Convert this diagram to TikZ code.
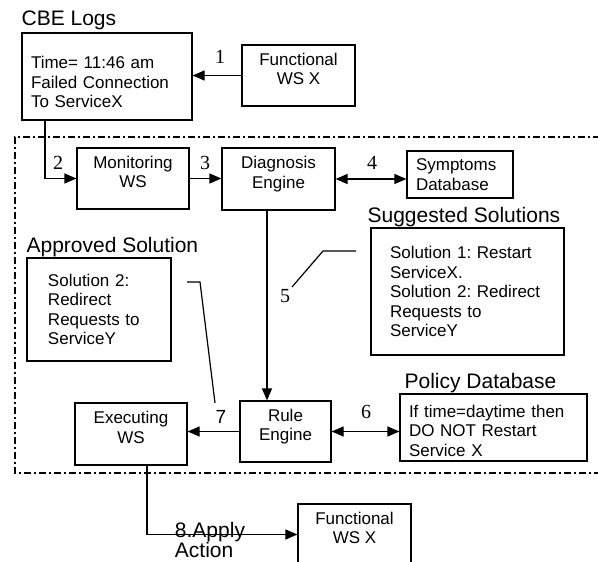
\documentclass[tikz,border=0pt]{standalone}
\usepackage{fontspec}
\setmainfont{Liberation Sans}
\newfontfamily\numfont{Liberation Serif}
\usetikzlibrary{arrows.meta}
\frenchspacing
\hyphenpenalty=10000
\tikzset{
    box/.style={
           rectangle,
           draw=black, line width=1.2pt,
           inner sep=0pt,
           align=center,
           font=\fontsize{17}{19.5}\selectfont,
           },
    mid/.style={box,text depth=13pt},
}
\tikzset{
    ttl/.style={
           anchor=base west,
           inner sep=0pt,
           font=\fontsize{21}{23}\selectfont,
           },
    num/.style={
           inner sep=0pt,
           font=\numfont\fontsize{20}{22}\selectfont,
           },
    arr/.style={line width=1.2pt,-{Triangle[length=12pt,width=10pt]}},
    darr/.style={line width=1.2pt,{Triangle[length=12pt,width=10pt]}-{Triangle[length=12pt,width=10pt]}},
    lead/.style={line width=1.2pt},
}

\begin{document}
\begin{tikzpicture}[x=1pt,y=-1pt]
\useasboundingbox (0,0) rectangle (598,562);
\node[box,align=left,text width=152pt,minimum width=170pt,minimum height=87pt](cbe) at (107,76.5){\rule{0pt}{24pt}Time= 11:46 am\\Failed Connection\\To ServiceX};
\node[ttl] at ([yshift=7pt]cbe.north west){CBE Logs};
\node[mid,minimum width=113pt,minimum height=61pt](fwsa) at (298.5,75.5){Functional\\WS X};
\node[mid,minimum width=112pt,minimum height=61pt](mon) at (133,178.5){Monitoring\\WS};
\node[mid,minimum width=113pt,minimum height=62pt](diag) at (278.5,179){Diagnosis\\Engine};
\node[box,align=left,text width=88pt,minimum width=106pt,minimum height=47pt](symp) at (460,174.5){Symptoms\\Database};
\node[box,align=left,text width=155pt,inner xsep=19pt,minimum height=127pt](sugg) at (467.5,291.5){Solution 1: Restart\\ServiceX.\\Solution 2: Redirect\\Requests to\\ServiceY};
\node[ttl] at ([xshift=-3pt,yshift=5pt]sugg.north west){Suggested Solutions};
\node[box,align=left,text width=102pt,inner xsep=21pt,minimum height=103pt](appr) at (99,309.5){Solution 2:\\Redirect\\Requests to\\ServiceY};
\node[ttl] at ([yshift=5pt]appr.north west){Approved Solution};
\node[mid,minimum width=112pt,minimum height=62pt](exe) at (131,434){Executing\\WS};
\node[mid,minimum width=91pt,minimum height=61pt](rule) at (285.5,431.5){Rule\\Engine};
\node[box,align=left,text width=169pt,inner xsep=9pt,minimum height=67pt](pol) at (493.5,427.5){\rule{0pt}{19pt}If time=daytime then\\DO NOT Restart\\Service X};
\node[ttl] at ([xshift=5pt,yshift=5pt]pol.north west){Policy Database};
\node[mid,minimum width=113pt,minimum height=61pt](fwsb) at (354.5,534.5){Functional\\WS X};

% system boundary
\draw[line width=1.2pt,dash pattern=on 7pt off 3pt on 2pt off 3pt] (600,137) -- (15,137) -- (15,473) -- (600,473);

% numbered steps
\draw[arr] (fwsa) -- (fwsa.west -| cbe.east);
\node[num](n1) at (220,57){1};
\draw[arr] ([xshift=-62pt]cbe.south) |- (mon.west);
\node[num](n2) at (58,163){2};
\draw[arr] (mon.east) -- (mon.east -| diag.west);
\node[num](n3) at (205,163){3};
\draw[darr] (diag.east) -- (diag.east -| symp.west);
\node[num](n4) at (372,163){4};
\coordinate (c5) at (356,251);
\draw[lead] (c5) -- (323,251) -- (292,287);
\node[num](n5) at (285,296){5};
\draw[arr] ([xshift=-11.5pt]diag.south) -- ([xshift=-11.5pt]diag.south |- rule.north);
\draw[darr] (rule.east) -- (rule.east -| pol.west);
\node[num](n6) at (366,412){6};
\draw[arr] (rule.west) -- (rule.west -| exe.east);
\coordinate (c7) at (187,282);
\draw[lead] (c7) -- (200,282) -- (215,403);
\node[inner sep=0pt,font=\fontsize{19}{21}\selectfont](n7) at (221,417){7};
\draw[arr] ([xshift=16pt]exe.south) |- (fwsb.west);
\node[align=left,inner sep=0pt,font=\fontsize{21}{20.5}\selectfont](n8) at (210,540){8.Apply\\Action};
\end{tikzpicture}
\end{document}
